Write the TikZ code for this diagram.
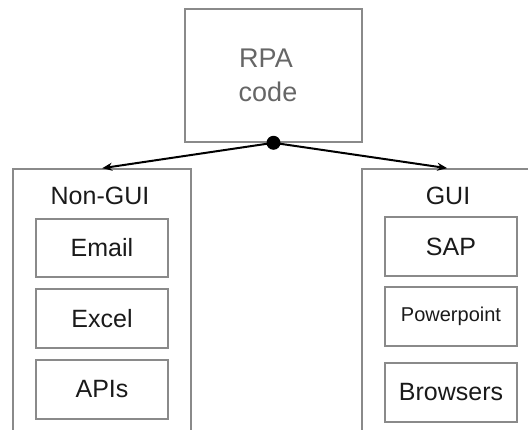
\documentclass[tikz,border=0pt]{standalone}
\usepackage{fontspec}
\setmainfont{Liberation Sans}
\usetikzlibrary{calc,arrows.meta}
\definecolor{bordergray}{HTML}{8A8A8A}
\definecolor{txt}{HTML}{1A1A1A}
\definecolor{rpatxt}{HTML}{666666}
\begin{document}
\begin{tikzpicture}[x=1pt,y=-1pt,
  box/.style={draw=bordergray,line width=1.6pt,rectangle,inner sep=0pt,text=txt},
  lbl/.style={anchor=base,text=txt,inner sep=0pt,font=\fontsize{25}{30}\selectfont},
  conn/.style={line width=2pt,-{Stealth[length=10pt,width=8pt]}}]
\useasboundingbox (0,0) rectangle (528,430);
\clip (0,0) rectangle (528,430);
% top box
\node[box,minimum width=177pt,minimum height=133pt] (rpa) at (273.5,75.5) {};
\node[anchor=base,text=rpatxt,inner sep=0pt,font=\fontsize{27}{34}\selectfont] (rpa1) at (266,68) {RPA};
\node[anchor=base,text=rpatxt,inner sep=0pt,font=\fontsize{27}{34}\selectfont] (rpa2) at (268,102) {code};
% outer containers
\node[box,minimum width=178pt,minimum height=281pt] (nongui) at (102,309.5) {};
\node[box,minimum width=198pt,minimum height=281pt] (gui) at (461,309.5) {};
\node[lbl] (ngl) at (100,205) {Non-GUI};
\node[lbl] (gl) at (448,205) {GUI};
% inner boxes left
\node[box,minimum width=132pt,minimum height=58pt,font=\fontsize{25}{30}\selectfont] (email) at (102,248) {Email};
\node[box,minimum width=132pt,minimum height=59pt,font=\fontsize{25}{30}\selectfont] (excel) at (102,318.5) {Excel};
\node[box,minimum width=132pt,minimum height=59pt,font=\fontsize{25}{30}\selectfont] (apis) at (102,389.5) {APIs};
% inner boxes right
\node[box,minimum width=132pt,minimum height=59pt,font=\fontsize{25}{30}\selectfont] (sap) at (451,246.5) {SAP};
\node[box,minimum width=132pt,minimum height=59pt,font=\fontsize{20}{24}\selectfont] (ppt) at (451,316.5) {Powerpoint};
\node[box,minimum width=132pt,minimum height=59pt,font=\fontsize{25}{30}\selectfont] (brw) at (451,392.5) {Browsers};
% dot and arrows
\coordinate (dot) at (rpa.south);
\draw[conn] (dot) -- ($(nongui.north west)+(90,0)$);
\draw[conn] (dot) -- ($(gui.north west)+(86,0)$);
\fill[black] (dot) circle (7pt);
\end{tikzpicture}
\end{document}
